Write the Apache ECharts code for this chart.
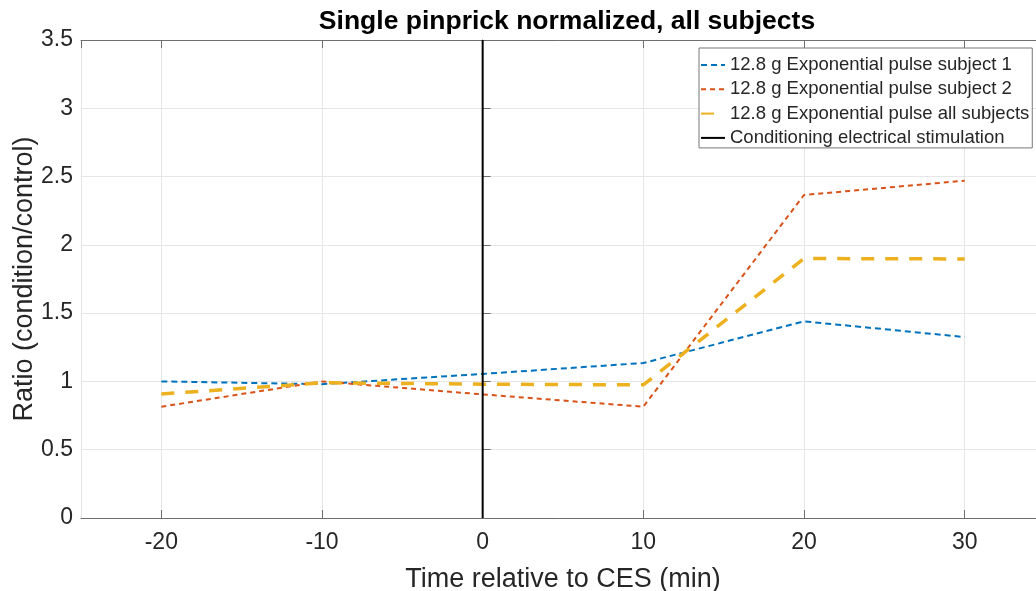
<!DOCTYPE html>
<html>
<head>
<meta charset="utf-8">
<script src="https://cdn.jsdelivr.net/npm/echarts@6/dist/echarts.min.js"></script>
<style>
  html, body { margin: 0; padding: 0; background: #fff; overflow: hidden; }
  #chart { width: 1036px; height: 591px; }
</style>
</head>
<body>
<div id="chart"></div>
<script>
// Time points relative to the conditioning stimulation (min)
const times = [-20, -10, 0, 10, 20, 30];
// Normalized ratios (condition/control)
const subject1 = [1.0, 0.98, 1.055, 1.135, 1.44, 1.325];
const subject2 = [0.815, 1.0, 0.905, 0.815, 2.365, 2.47];
const allSubjects = [0.908, 0.99, 0.98, 0.975, 1.90, 1.897];
// Vertical marker for the conditioning stimulation
const cesTime = 0;
const cesSpan = [0, 3.5];

const seriesNames = [
  '12.8 g Exponential pulse subject 1',
  '12.8 g Exponential pulse subject 2',
  '12.8 g Exponential pulse all subjects',
  'Conditioning electrical stimulation'
];

const pair = (xs, ys) => xs.map((x, i) => [x, ys[i]]);
const FONT = '"Liberation Sans", Arial, Helvetica, sans-serif';
const TXT = '#262626';
const AXC = '#6e6e6e';

const chart = echarts.init(document.getElementById('chart'), null, { renderer: 'canvas' });

chart.setOption({
  animation: false,
  backgroundColor: '#ffffff',
  textStyle: { fontFamily: FONT },
  title: {
    text: 'Single pinprick normalized, all subjects',
    left: 562,
    top: 3,
    textAlign: 'center',
    textStyle: { fontFamily: FONT, fontSize: 26.5, fontWeight: 'bold', color: '#000' }
  },
  // the plot box runs a little past the right edge of the page
  grid: {
    left: 81, top: 40, width: 964, height: 478,
    containLabel: false,
    outerBoundsMode: 'none'
  },
  legend: {
    orient: 'vertical',
    left: 699,
    top: 48,
    data: seriesNames,
    backgroundColor: '#ffffff',
    borderColor: '#777777',
    borderWidth: 1,
    borderRadius: 0,
    padding: [7, 3, 0, 1],
    itemWidth: 24,
    itemHeight: 14,
    itemGap: 4.3,
    itemStyle: { opacity: 0 },
    textStyle: { fontFamily: FONT, fontSize: 18.5, color: TXT, lineHeight: 20 }
  },
  xAxis: [
    {
      type: 'value',
      min: -25,
      max: 35,
      splitNumber: 6,
      name: 'Time relative to CES (min)',
      nameLocation: 'middle',
      nameGap: 48.5,
      nameTextStyle: { fontFamily: FONT, fontSize: 27, color: TXT },
      axisLine: { show: true, lineStyle: { color: AXC, width: 1 } },
      axisTick: { show: true, inside: true, length: 8, lineStyle: { color: AXC } },
      axisLabel: {
        fontFamily: FONT, fontSize: 23, color: TXT, margin: 13.5,
        showMinLabel: false, showMaxLabel: false,
        formatter: v => (v % 10 === 0 ? String(v) : '')
      },
      splitLine: { show: true, lineStyle: { color: '#e6e6e6', width: 1 } }
    },
    {
      type: 'value',
      position: 'top',
      min: -25,
      max: 35,
      splitNumber: 6,
      axisLine: { show: true, lineStyle: { color: AXC, width: 1 } },
      axisTick: { show: true, inside: true, length: 8, lineStyle: { color: AXC } },
      axisLabel: { show: false },
      splitLine: { show: false }
    }
  ],
  yAxis: {
    type: 'value',
    min: 0,
    max: 3.5,
    interval: 0.5,
    name: 'Ratio (condition/control)',
    nameLocation: 'middle',
    nameGap: 43,
    nameMoveOverlap: false,
    nameTextStyle: { fontFamily: FONT, fontSize: 27, color: TXT },
    axisLine: { show: true, lineStyle: { color: AXC, width: 1 } },
    axisTick: { show: true, inside: true, length: 8, lineStyle: { color: AXC } },
    axisLabel: { fontFamily: FONT, fontSize: 23, color: TXT, margin: 8 },
    splitLine: { show: true, lineStyle: { color: '#e6e6e6', width: 1 } }
  },
  series: [
    {
      name: seriesNames[0],
      type: 'line',
      data: pair(times, subject1),
      symbol: 'none',
      color: '#0072BD',
      lineStyle: { color: '#0072BD', width: 2, type: [6, 4] },
      z: 3
    },
    {
      name: seriesNames[1],
      type: 'line',
      data: pair(times, subject2),
      symbol: 'none',
      color: '#D95319',
      lineStyle: { color: '#D95319', width: 2, type: [5, 4] },
      z: 3
    },
    {
      name: seriesNames[2],
      type: 'line',
      data: pair(times, allSubjects),
      symbol: 'none',
      color: '#EDB120',
      lineStyle: { color: '#EDB120', width: 3.5, type: [13, 11] },
      z: 4
    },
    {
      name: seriesNames[3],
      type: 'line',
      data: cesSpan.map(y => [cesTime, y]),
      symbol: 'none',
      color: '#000000',
      lineStyle: { color: '#000000', width: 2 },
      z: 5
    }
  ]
});
</script>
</body>
</html>
